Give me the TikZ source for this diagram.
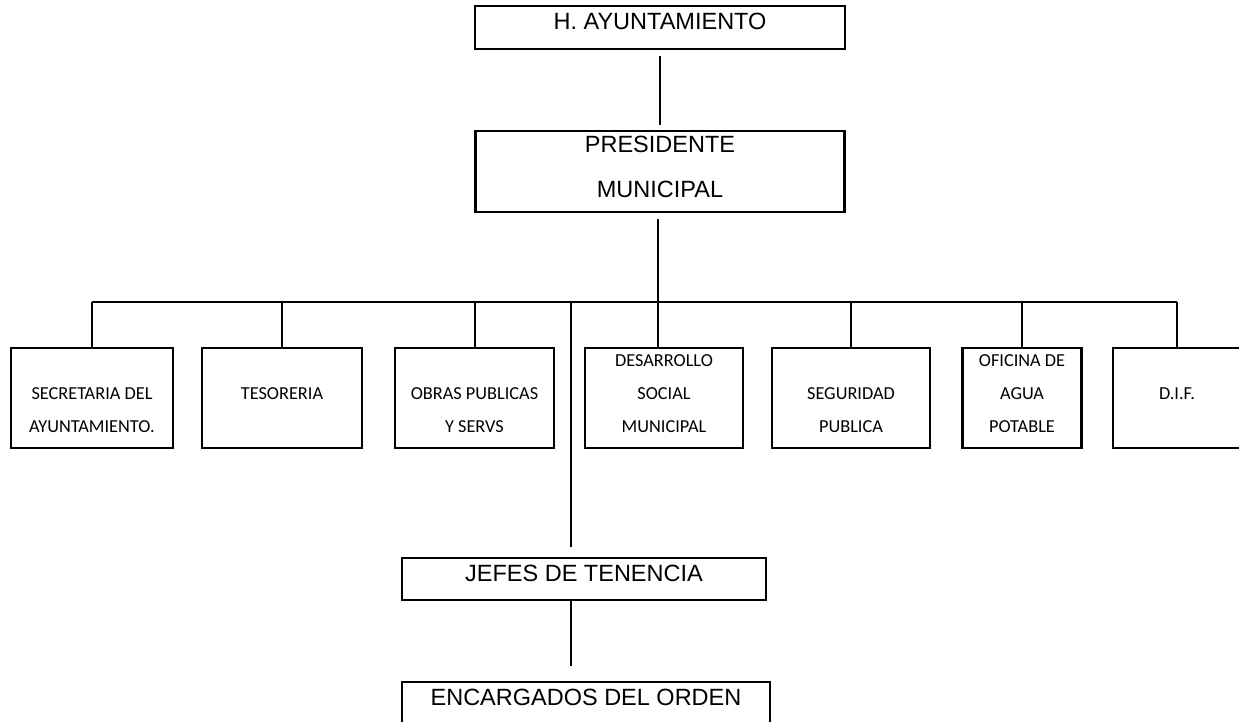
\documentclass[tikz,border=0pt]{standalone}
\usepackage{fontspec}
\setmainfont{Liberation Sans}
\newfontfamily\calibri{Carlito}

\begin{document}
\begin{tikzpicture}[x=1pt,y=-1pt,
	caja/.style={draw,line width=2.6pt,inner sep=0pt,align=center,font=\fontsize{23.5}{44}\selectfont},
	fila/.style={draw,line width=2.6pt,inner sep=0pt,align=center,minimum height=100pt,text height=13pt,text depth=11pt,font=\calibri\fontsize{18.3}{33}\selectfont},
	varias/.style={fila,text height=79pt},
	linea/.style={line width=2pt}]
	  \useasboundingbox (0,0) rectangle (1239,722);   % page
	  \clip (0,0) rectangle (1239,722);

	  % top of the chart
	  \node[caja,minimum width=370pt,minimum height=43pt,text height=17pt,text depth=12pt] (ayto) at (660,27.5) {H. AYUNTAMIENTO};
	  \node[caja,minimum width=369pt,minimum height=81pt,text height=60pt,text depth=9pt] (pres) at (660,171.5) {PRESIDENTE\\MUNICIPAL};

	  % row of offices
	  \node[varias,minimum width=162pt] (sec) at (92,398) {SECRETARIA DEL\\AYUNTAMIENTO.};
	  \node[fila,minimum width=160pt] (tes) at (282,398) {TESORERIA};
	  \node[varias,minimum width=159pt] (obr) at (474.5,398) {OBRAS PUBLICAS\\Y SERVS};
	  \node[varias,minimum width=158pt] (des) at (664,398) {DESARROLLO\\SOCIAL\\MUNICIPAL};
	  \node[varias,minimum width=158pt] (seg) at (851,398) {SEGURIDAD\\PUBLICA};
	  \node[varias,minimum width=119pt] (agu) at (1022,398) {OFICINA DE\\AGUA\\POTABLE};
	  \node[fila,minimum width=128pt] (dif) at (1177,398) {D.I.F.};

	  % tenencias
	  \node[caja,minimum width=364pt,minimum height=42pt,text height=17pt,text depth=12pt] (jef) at (584,579) {JEFES DE TENENCIA};
	  \node[caja,minimum width=368pt,minimum height=42pt,text height=17pt,text depth=13pt] (ord) at (586,703) {ENCARGADOS DEL ORDEN};

	  \coordinate (bus) at (658,302);   % horizontal bar
	  \coordinate (ten) at (571,302);

	  \draw[linea,shorten <=6pt,shorten >=5pt] (ayto.south) -- (pres.north);
	  \draw[linea,shorten <=6pt] (pres.south -| bus) -- (des.north -| bus);
	  \draw[linea] (sec.north |- bus) -- (dif.north |- bus);
	  \foreach \n in {sec,tes,obr,seg,agu,dif}
	  \draw[linea] (\n.north |- bus) -- (\n.north);
	  \draw[linea,shorten >=10pt] (ten) -- (ten |- jef.north);
	  \draw[linea,shorten >=15pt] (ten |- jef.south) -- (ten |- ord.north);
	
	\end{tikzpicture}
\end{document}
